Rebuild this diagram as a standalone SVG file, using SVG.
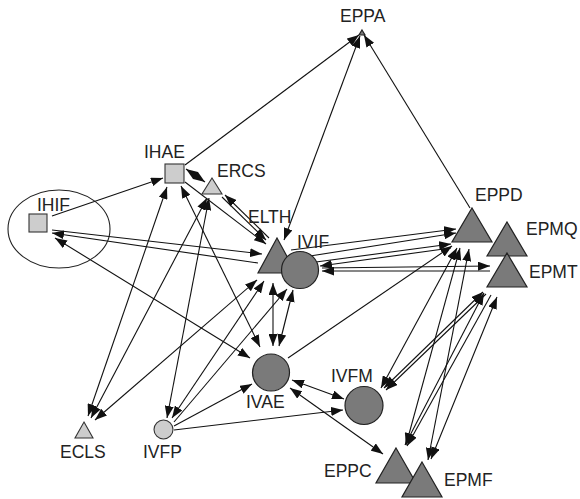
<svg xmlns="http://www.w3.org/2000/svg" width="580" height="499" viewBox="0 0 580 499">
<style>
.lbl{font-family:"Liberation Sans",Arial,sans-serif;font-size:17.5px;fill:#222}
.e{stroke:#111;stroke-width:1.1;fill:none}
.a{marker-end:url(#ah)}
.b{marker-start:url(#ah);marker-end:url(#ah)}
.s{marker-start:url(#ah)}
.dk{fill:#7a7a7a;stroke:#222;stroke-width:1.2}
.lt{fill:#cdcdcd;stroke:#333;stroke-width:1.1}
</style>
<defs>
<marker id="ah" markerUnits="userSpaceOnUse" markerWidth="12" markerHeight="9" refX="12" refY="4.5" orient="auto-start-reverse">
<path d="M0,0 L12,4.5 L0,9 z" fill="#111"/>
</marker>
</defs>
<rect width="580" height="499" fill="#fff"/>
<g id="connectors">
<line class="e a" x1="185" y1="165" x2="359" y2="35"/>
<line class="e b" x1="360" y1="36" x2="284" y2="240"/>
<line class="e a" x1="470" y1="208" x2="364" y2="35"/>
<line class="e a" x1="52" y1="216" x2="163" y2="178"/>
<line class="e b" x1="186" y1="169" x2="205" y2="182"/>
<line class="e a" x1="185" y1="182" x2="266" y2="244"/>
<line class="e a" x1="222" y1="197" x2="266" y2="240"/>
<line class="e s" x1="225" y1="195" x2="269" y2="238"/>
<line class="e a" x1="52" y1="230" x2="262" y2="254"/>
<line class="e a" x1="258" y1="263" x2="52" y2="233"/>
<line class="e b" x1="55" y1="238" x2="250" y2="358"/>
<line class="e b" x1="181" y1="186" x2="260" y2="347"/>
<line class="e b" x1="88" y1="416" x2="167" y2="187"/>
<line class="e b" x1="91" y1="418" x2="207" y2="198"/>
<line class="e b" x1="95" y1="420" x2="257" y2="280"/>
<line class="e b" x1="167" y1="418" x2="209" y2="198"/>
<line class="e b" x1="172" y1="418" x2="264" y2="281"/>
<line class="e a" x1="174" y1="422" x2="287" y2="289"/>
<line class="e a" x1="174" y1="426" x2="252" y2="384"/>
<line class="e a" x1="174" y1="430" x2="343" y2="410"/>
<line class="e b" x1="273" y1="283" x2="273" y2="346"/>
<line class="e b" x1="293" y1="290" x2="279" y2="346"/>
<line class="e a" x1="288" y1="358" x2="452" y2="246"/>
<line class="e b" x1="292" y1="380" x2="344" y2="399"/>
<line class="e b" x1="290" y1="388" x2="383" y2="454"/>
<line class="e a" x1="291" y1="250" x2="456" y2="229"/>
<line class="e a" x1="310" y1="256" x2="456" y2="233"/>
<line class="e a" x1="316" y1="262" x2="451" y2="244"/>
<line class="e a" x1="451" y1="248" x2="320" y2="266"/>
<line class="e a" x1="322" y1="268" x2="490" y2="266"/>
<line class="e a" x1="490" y1="271" x2="322" y2="271"/>
<line class="e b" x1="457" y1="248" x2="381" y2="388"/>
<line class="e b" x1="483" y1="292" x2="384" y2="388"/>
<line class="e a" x1="486" y1="294" x2="386" y2="390"/>
<line class="e b" x1="484" y1="293" x2="405" y2="445"/>
<line class="e a" x1="491" y1="295" x2="407" y2="446"/>
<line class="e b" x1="497" y1="297" x2="431" y2="459"/>
<line class="e b" x1="460" y1="248" x2="406" y2="445"/>
<line class="e b" x1="469" y1="249" x2="428" y2="460"/>
</g>
<g id="EPPA"><path class="dk" d="M362,30 L365,35 L359,35 z"/><text class="lbl" x="340" y="22">EPPA</text></g>
<g id="IHIF"><ellipse cx="59" cy="229" rx="51" ry="39" fill="none" stroke="#222" stroke-width="1.1"/><rect class="lt" x="29" y="214" width="18" height="18"/><text class="lbl" x="37" y="211">IHIF</text></g>
<g id="IHAE"><rect class="lt" x="165" y="164" width="19" height="19"/><text class="lbl" x="144" y="158">IHAE</text></g>
<g id="ERCS"><path class="lt" d="M212,178 L222,194 L202,194 z"/><text class="lbl" x="217" y="177">ERCS</text></g>
<g id="ELTH"><path class="dk" d="M277,238 L296,273 L258,273 z"/><text class="lbl" x="248" y="223">ELTH</text></g>
<g id="IVIF"><circle class="dk" cx="300" cy="270" r="18.5"/><text class="lbl" x="297" y="248">IVIF</text></g>
<g id="EPPD"><path class="dk" d="M472,208 L492,242 L452,242 z"/><text class="lbl" x="475" y="201">EPPD</text></g>
<g id="EPMQ"><path class="dk" d="M507,222 L527,256 L487,256 z"/><text class="lbl" x="526" y="235">EPMQ</text></g>
<g id="EPMT"><path class="dk" d="M507,253 L527,287 L487,287 z"/><text class="lbl" x="529" y="278">EPMT</text></g>
<g id="IVAE"><circle class="dk" cx="271" cy="372.5" r="18.5"/><text class="lbl" x="246" y="408">IVAE</text></g>
<g id="IVFM"><circle class="dk" cx="364" cy="405.5" r="19"/><text class="lbl" x="331" y="382">IVFM</text></g>
<g id="EPPC"><path class="dk" d="M396,448 L416,483 L376,483 z"/><text class="lbl" x="324" y="477">EPPC</text></g>
<g id="EPMF"><path class="dk" d="M422,462 L442,497 L402,497 z"/><text class="lbl" x="444" y="486">EPMF</text></g>
<g id="ECLS"><path class="lt" d="M84,422 L93,438 L75,438 z"/><text class="lbl" x="60" y="458">ECLS</text></g>
<g id="IVFP"><circle class="lt" cx="163.5" cy="429.5" r="9.5"/><text class="lbl" x="143" y="458">IVFP</text></g>
</svg>
